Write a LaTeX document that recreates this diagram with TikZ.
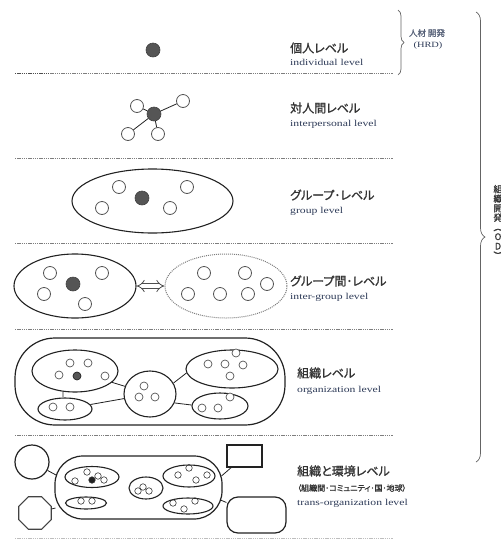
\documentclass[tikz,border=0pt]{standalone}
\usepackage{fontspec}
\newfontfamily\jp[RawFeature=+palt, FakeBold=1.2]{Noto Sans CJK JP}
\newfontfamily\jpv[FakeBold=1.2]{Noto Sans CJK JP}
\newfontfamily\en[FakeStretch=1.3]{Liberation Serif}
\usetikzlibrary{shapes.geometric,arrows.meta,decorations.pathreplacing}
\definecolor{ink}{HTML}{222222}
\definecolor{dotc}{HTML}{7E7E7E}
\definecolor{pcol}{HTML}{555555}
\definecolor{jtxt}{HTML}{333333}
\definecolor{etxt}{HTML}{2E3B58}
\begin{document}
\begin{tikzpicture}[x=1pt,y=-1pt,
  sep/.style={dotc, line width=1pt, dash pattern=on 1.4pt off 0.8pt},
  person/.style={circle, draw=pcol, line width=0.8pt, inner sep=0pt, minimum size=13pt, fill=white},
  core/.style={circle, draw=ink!85, line width=0.6pt, fill=pcol, inner sep=0pt, minimum size=14pt},
  small/.style={circle, draw=pcol, line width=0.7pt, inner sep=0pt, minimum size=8pt, fill=white},
  smallcore/.style={small, draw=ink, fill=pcol},
  tiny/.style={circle, draw=ink!90, line width=0.6pt, inner sep=0pt, minimum size=6.5pt},
  tinycore/.style={tiny, fill=ink},
  grp/.style={ellipse, draw=ink, line width=1.1pt, inner sep=0pt},
  dgrp/.style={ellipse, draw=dotc, line width=1pt, densely dotted, inner sep=0pt},
  wire/.style={ink, line width=0.8pt},
  stad/.style={rectangle, draw=ink, line width=1.2pt, inner sep=0pt},
  jlab/.style={anchor=west, inner sep=0pt, text=jtxt, font=\jp\fontsize{12}{12}\selectfont},
  elab/.style={anchor=west, inner sep=0pt, text=etxt, font=\en\fontsize{9}{9}\selectfont},
  brc/.style={ink!70, line width=0.7pt, decorate}
]
\useasboundingbox (0,0) rectangle (501,539);

% separators
\draw[sep] (15,73) -- (393,73);
\draw[ink!80, line width=1pt, dash pattern=on 1.4pt off 0.8pt] (15,73) -- (50,73);
\draw[sep] (15,158) -- (393,158);
\draw[sep] (15,243) -- (393,243);
\draw[sep] (15,329) -- (393,329);
\draw[sep] (15,435) -- (393,435);
\draw[sep, dotc!50] (15,538) -- (393,538);

% individual level
\node[core] (ind) at (153,50) {};
\node[jlab] (t1) at (290,48) {個人レベル};
\node[elab] (e1) at (290,62) {individual level};

% interpersonal level
\node[core] (ip) at (154,114) {};
\node[person] (ip1) at (137,106) {};
\node[person] (ip2) at (183,101) {};
\node[person] (ip3) at (128,134) {};
\node[person] (ip4) at (158,134) {};
\foreach \k in {1,...,4} \draw[wire] (ip) -- (ip\k);
\node[jlab] (t2) at (290,108) {対人間レベル};
\node[elab] (e2) at (290,124) {interpersonal level};

% group level
\node[grp, minimum width=161pt, minimum height=64pt] (g) at (152.5,201) {};
\node[person] (g1) at (119,187) {};
\node[person] (g2) at (187,187) {};
\node[person] (g3) at (102,208) {};
\node[person] (g4) at (170,208) {};
\node[core] (gc) at (142,198) {};
\node[jlab] (t3) at (290,195) {グループ･レベル};
\node[elab] (e3) at (290,211) {group level};

% inter-group level
\node[grp, minimum width=122pt, minimum height=64pt] (lg) at (75,286) {};
\node[dgrp, minimum width=122pt, minimum height=64pt] (rg) at (226,286) {};
\node[person] (l1) at (50,273) {};
\node[person] (l2) at (102,273) {};
\node[person] (l3) at (44,294) {};
\node[person] (l4) at (85,304) {};
\node[core] (lc) at (73,284) {};
\node[person] (r1) at (204,273) {};
\node[person] (r2) at (245,273) {};
\node[person] (r3) at (267,284) {};
\node[person] (r4) at (188,294) {};
\node[person] (r5) at (220,294) {};
\node[person] (r6) at (248,294) {};
\draw[ink!80, line width=0.8pt, double=white, double distance=3.5pt, {Implies}-{Implies}] (lg.east) -- (rg.west);
\node[jlab] (t4) at (290,281) {グループ間･レベル};
\node[elab] (e4) at (290,297) {inter-group level};

% organization level
\node[stad, minimum width=270pt, minimum height=87pt, rounded corners=40pt] (org) at (150,381.5) {};
\node[grp, minimum width=86pt, minimum height=42pt] (otl) at (75,371) {};
\node[grp, minimum width=54pt, minimum height=22pt] (obl) at (65,409) {};
\node[grp, minimum width=52pt, minimum height=46pt] (occ) at (150,394) {};
\node[grp, minimum width=92pt, minimum height=38pt] (otr) at (232,369) {};
\node[grp, minimum width=56pt, minimum height=26pt] (obr) at (220,406) {};
\draw[wire] (otl) -- (occ);
\draw[wire] (obl) -- (occ);
\draw[wire] (otl.240) -- (obl.100);
\draw[wire] (occ.25) -- (otr.185);
\draw[wire] (occ.-20) -- (obr.178);
\node[small] (o1) at (70,363) {};
\node[small] (o2) at (88,363) {};
\node[small] (o3) at (59,375) {};
\node[small] (o4) at (105,376) {};
\node[smallcore] (o5) at (77,376) {};
\node[small] (o6) at (53,407) {};
\node[small] (o7) at (70,407) {};
\node[small] (o8) at (144,386) {};
\node[small] (o9) at (139,397) {};
\node[small] (o10) at (155,397) {};
\node[small] (o11) at (208,364) {};
\node[small] (o12) at (225,364) {};
\node[small] (o13) at (243,365) {};
\node[small] (o14) at (236,353) {};
\node[small] (o15) at (230,376) {};
\node[small] (o16) at (202,408) {};
\node[small] (o17) at (218,408) {};
\node[small] (o18) at (230,397) {};
\node[jlab] (t5) at (297,373) {組織レベル};
\node[elab] (e5) at (297,390) {organization level};

% trans-organization level
\node[stad, minimum width=167pt, minimum height=63pt, rounded corners=28pt] (ts) at (138.5,487.5) {};
\node[circle, draw=ink, line width=1.2pt, inner sep=0pt, minimum size=34pt] (env1) at (32,462) {};
\node[regular polygon, regular polygon sides=8, draw=ink!85, line width=1.2pt, inner sep=0pt, minimum size=35pt] (env2) at (35,513) {};
\node[rectangle, draw=ink, line width=1.2pt, inner sep=0pt, minimum width=35pt, minimum height=22pt] (env3) at (244.5,456) {};
\node[rectangle, draw=ink, line width=1.2pt, inner sep=0pt, minimum width=59pt, minimum height=36pt, rounded corners=11pt] (env4) at (256.5,515) {};
\coordinate (tsA) at (56,475);
\coordinate (tsB) at (55.5,508);
\coordinate (tsC) at (221.5,476);
\coordinate (tsD) at (220.5,500);
\draw[wire] (env1) -- (tsA);
\draw[wire] (env2) -- (tsB);
\draw[wire] (env3) -- (tsC);
\draw[wire] (env4) -- (tsD);
\node[grp, minimum width=54pt, minimum height=21pt] (ttl) at (92,477) {};
\node[grp, minimum width=41pt, minimum height=12pt] (tbl) at (86,503) {};
\node[grp, minimum width=34pt, minimum height=22pt] (tcc) at (146,488) {};
\node[grp, minimum width=52pt, minimum height=22pt] (ttr) at (189,476) {};
\node[grp, minimum width=50pt, minimum height=16pt] (tbr) at (188,506) {};
\node[tiny] (u1) at (75,481) {};
\node[tiny] (u2) at (87,472) {};
\node[tiny] (u3) at (98,476) {};
\node[tiny] (u4) at (104,480) {};
\node[tinycore] (u5) at (92,480) {};
\node[tiny] (u6) at (81,501) {};
\node[tiny] (u7) at (92,501) {};
\node[tiny] (u8) at (138,491) {};
\node[tiny] (u9) at (143,487) {};
\node[tiny] (u10) at (149,491) {};
\node[tiny] (u11) at (189,468) {};
\node[tiny] (u12) at (178,475) {};
\node[tiny] (u13) at (196,480) {};
\node[tiny] (u14) at (207,475) {};
\node[tiny] (u15) at (173,503) {};
\node[tiny] (u16) at (184,509) {};
\node[tiny] (u17) at (195,501) {};
\node[jlab] (t6) at (297,471) {組織と環境レベル};
\node[anchor=west, inner sep=0pt, text=jtxt, font=\jp\fontsize{8}{8}\selectfont] (t7) at (297,488) {（組織間･コミュニティ･国･地球）};
\node[elab] (e6) at (297,503) {trans-organization level};

% braces
\coordinate (hA) at (398,10);
\coordinate (hB) at (398,75);
\draw[brc, decoration={brace, amplitude=6pt}] (hA) -- (hB);
\node[inner sep=0pt, text=etxt!80, font=\jp\fontsize{8.5}{8.5}\selectfont] (hrd1) at (427,33) {人材 開発};
\node[inner sep=0pt, text=etxt, font=\en\fontsize{8}{8}\selectfont] (hrd2) at (428,46) {(HRD)};
\coordinate (oA) at (476,12);
\coordinate (oB) at (476,462);
\draw[brc, decoration={brace, amplitude=9pt}] (oA) -- (oB);
\node[inner sep=0pt, text=jtxt, align=center, font=\jpv\fontsize{9}{9.5}\selectfont] (od) at (498,222) {組\\織\\開\\発\\︵\\O\\D\\︶};
\end{tikzpicture}
\end{document}
